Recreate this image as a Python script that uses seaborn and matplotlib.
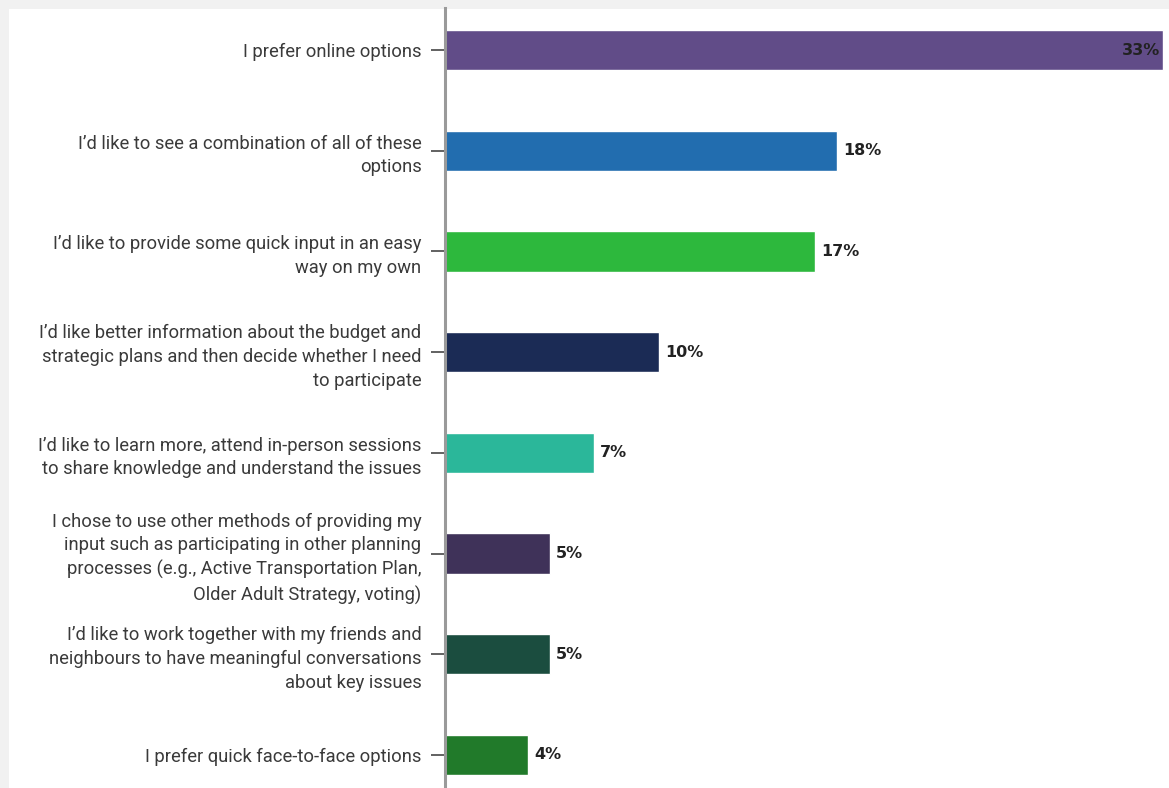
#!/usr/bin/env python3
"""Survey chart: preferred ways to take part (horizontal bars)"""

import matplotlib
matplotlib.use("Agg")
import matplotlib.pyplot as plt
import seaborn as sns
import pandas as pd

# Data
categories = [
    "I prefer online options",
    "I\u2019d like to see a combination of all of these\noptions",
    "I\u2019d like to provide some quick input in an easy\nway on my own",
    "I\u2019d like better information about the budget and\nstrategic plans and then decide whether I need\nto participate",
    "I\u2019d like to learn more, attend in-person sessions\nto share knowledge and understand the issues",
    "I chose to use other methods of providing my\ninput such as participating in other planning\nprocesses (e.g., Active Transportation Plan,\nOlder Adult Strategy, voting)",
    "I\u2019d like to work together with my friends and\nneighbours to have meaningful conversations\nabout key issues",
    "I prefer quick face-to-face options",
]
values = [33.0, 18.0, 17.0, 9.85, 6.86, 4.83, 4.83, 3.82]
value_labels = ["33%", "18%", "17%", "10%", "7%", "5%", "5%", "4%"]
bar_colors = ["#614C88", "#226DAF", "#2DB83D", "#1B2B55",
              "#2BB79A", "#3F3259", "#1B4D3F", "#217A2A"]

sns.set_theme(style="white")
plt.rcParams["font.family"] = ["Roboto", "DejaVu Sans"]

df = pd.DataFrame({"category": categories, "value": values})

W, H = 1169, 788
fig = plt.figure(figsize=(W / 100, H / 100), dpi=100)
fig.patch.set_facecolor("#F1F1F1")

# white card behind the chart (screenshot frame)
bg = fig.add_axes([9 / W, 0, 1 - 9 / W, 1 - 9 / H], zorder=-1)
bg.set_facecolor("white")
bg.set_xticks([])
bg.set_yticks([])
for s in bg.spines.values():
    s.set_visible(False)

left_px, top_px = 445, 8
ax = fig.add_axes([left_px / W, 0, 1 - left_px / W, 1 - top_px / H])
ax.set_facecolor("none")

sns.barplot(data=df, y="category", x="value", hue="category",
            palette=bar_colors, orient="h", width=0.4, legend=False,
            saturation=1, ax=ax)

# bar centres are ~100.7 px apart, first one 50 px from the top
px_per_unit = 100.7
ax.set_ylim((H - 50) / px_per_unit, -(50 - top_px) / px_per_unit)
ax.set_xlim(0, (W - 446) / 21.73)

for i, (v, lab) in enumerate(zip(values, value_labels)):
    if v > 30:
        ax.text(v - 0.15, i, lab, ha="right", va="center", fontsize=11.5,
                fontweight="bold", family="DejaVu Sans", color="#222222")
    else:
        ax.text(v + 0.28, i, lab, ha="left", va="center", fontsize=11.5,
                fontweight="bold", family="DejaVu Sans", color="#222222")

ax.set_xlabel("")
ax.set_ylabel("")
ax.set_xticks([])
for side in ["top", "right", "bottom"]:
    ax.spines[side].set_visible(False)
ax.spines["left"].set_color("#9A9A9A")
ax.spines["left"].set_linewidth(2.2)
ax.tick_params(axis="y", left=True, length=10, width=1.3, color="#555555",
               pad=7, labelsize=13.2, labelcolor="#3A3A3A")
for t in ax.get_yticklabels():
    t.set_linespacing(1.4)
    t.set_ha("right")

fig.savefig("out.png", dpi=100, facecolor=fig.get_facecolor())
